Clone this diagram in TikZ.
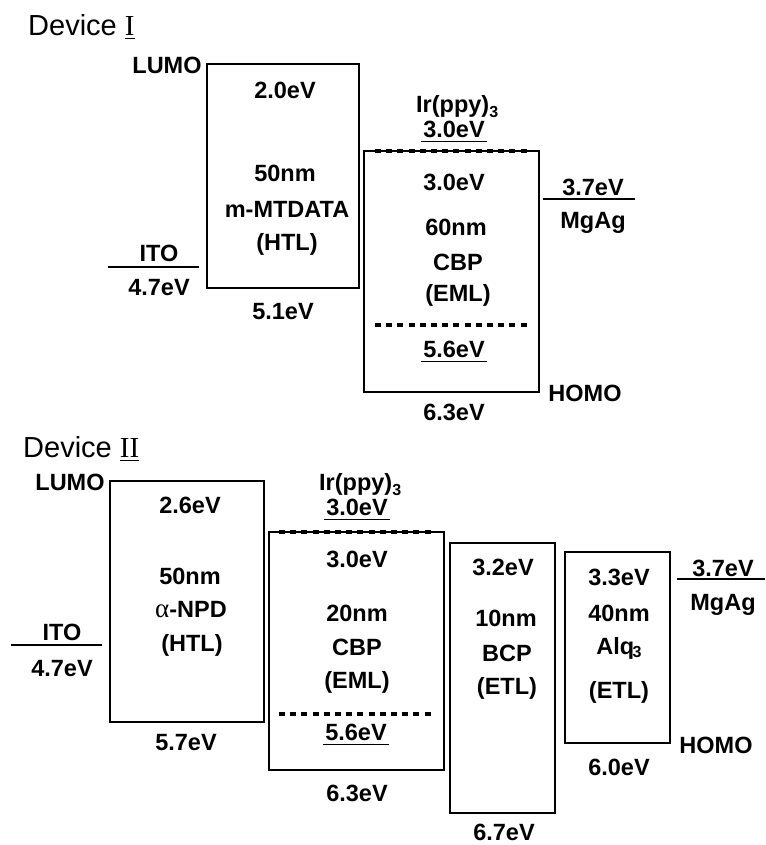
\documentclass[tikz,border=0pt]{standalone}
\usepackage{fontspec}
\setmainfont{Liberation Sans}
\newfontfamily\serifnum{Liberation Serif}
\newcommand\ulbl[1]{\setbox0\hbox{#1}\rlap{\hskip-2pt\rule[-4.5pt]{\dimexpr\wd0+4pt\relax}{1.5pt}}\box0}
\newcommand\uldev[1]{\setbox0\hbox{#1}\rlap{\rule[-3.5pt]{\wd0}{1.3pt}}\box0}
\newcommand\subthree{\raisebox{-5pt}{\fontsize{16}{16}\selectfont 3}}
\begin{document}
\begin{tikzpicture}[x=1pt,y=-1pt,
  layer/.style={draw, line width=1.3pt, inner sep=0pt},
  lbl/.style={font=\bfseries\fontsize{23.5}{27}\selectfont, inner sep=0pt},
  dev/.style={font=\fontsize{29}{33}\selectfont, inner sep=0pt, anchor=west},
  level/.style={line width=1.8pt},
  dots/.style={line width=4.5pt, dash pattern=on 6pt off 5.2pt}]
\useasboundingbox (0,0) rectangle (765,845);

% ---------------- Device I ----------------
\node[dev] (dev1) at (28,27) {Device \uldev{\serifnum I}};
\node[layer, minimum width=152pt, minimum height=224pt] (htl1) at (283,176) {};
\node[layer, minimum width=175pt, minimum height=241pt] (eml1) at (451.5,271.5) {};
\node[lbl] (lumo1) at (167,65) {LUMO};
\node[lbl] (h1a) at (285,90) {2.0eV};
\node[lbl] (h1b) at (285,173) {50nm};
\node[lbl] (h1c) at (287,209) {m-MTDATA};
\node[lbl] (h1d) at (287,244) {(HTL)};
\node[lbl] (h1e) at (283,312) {5.1eV};
\coordinate (ito1l) at (108,267);
\coordinate (ito1r) at (199,267);
\draw[level] (ito1l) -- (ito1r);
\node[lbl] (ito1) at (159,253) {ITO};
\node[lbl] (ito1e) at (159,288) {4.7eV};
\node[lbl, anchor=west] (ir1) at (416,107) {Ir(ppy)\subthree};
\node[lbl] (ir1e) at (454,132) {\ulbl{3.0eV}};
\coordinate (d1tl) at (375,151);
\coordinate (d1tr) at (528,151);
\draw[dots] (d1tl) -- (d1tr);
\coordinate (d1bl) at (375,325);
\coordinate (d1br) at (528,325);
\draw[dots] (d1bl) -- (d1br);
\node[lbl] (e1a) at (454,182) {3.0eV};
\node[lbl] (e1b) at (456,227) {60nm};
\node[lbl] (e1c) at (458,262) {CBP};
\node[lbl] (e1d) at (458,295) {(EML)};
\node[lbl] (e1e) at (454,352) {\ulbl{5.6eV}};
\node[lbl] (e1f) at (454,412) {6.3eV};
\coordinate (mg1l) at (543,199);
\coordinate (mg1r) at (635,199);
\draw[level] (mg1l) -- (mg1r);
\node[lbl] (mg1e) at (593,187) {3.7eV};
\node[lbl] (mg1) at (593,223) {MgAg};
\node[lbl] (homo1) at (585,393) {HOMO};

% ---------------- Device II ----------------
\node[dev] (dev2) at (23,449) {Device \uldev{\serifnum II}};
\node[layer, minimum width=154pt, minimum height=241pt] (htl2) at (187,601.5) {};
\node[layer, minimum width=175pt, minimum height=238pt] (eml2) at (356.5,651) {};
\node[layer, minimum width=105pt, minimum height=270pt] (bcp) at (502.5,678) {};
\node[layer, minimum width=105pt, minimum height=191pt] (alq) at (617.5,647.5) {};
\node[lbl] (lumo2) at (70,482) {LUMO};
\node[lbl] (h2a) at (190,505) {2.6eV};
\node[lbl] (h2b) at (190,576) {50nm};
\node[lbl] (h2c) at (191,610) {{\serifnum\mdseries\fontsize{27}{29}\selectfont α}-NPD};
\node[lbl] (h2d) at (192,645) {(HTL)};
\node[lbl] (h2e) at (186,743) {5.7eV};
\coordinate (ito2l) at (11,645);
\coordinate (ito2r) at (102,645);
\draw[level] (ito2l) -- (ito2r);
\node[lbl] (ito2) at (62,632) {ITO};
\node[lbl] (ito2e) at (62,669) {4.7eV};
\node[lbl, anchor=west] (ir2) at (319,485) {Ir(ppy)\subthree};
\node[lbl] (ir2e) at (357,510) {\ulbl{3.0eV}};
\coordinate (d2tl) at (279,532);
\coordinate (d2tr) at (432,532);
\draw[dots] (d2tl) -- (d2tr);
\coordinate (d2bl) at (279,714);
\coordinate (d2br) at (432,714);
\draw[dots] (d2bl) -- (d2br);
\node[lbl] (e2a) at (357,559) {3.0eV};
\node[lbl] (e2b) at (357,613) {20nm};
\node[lbl] (e2c) at (357,647) {CBP};
\node[lbl] (e2d) at (357,682) {(EML)};
\node[lbl] (e2e) at (356,735) {\ulbl{5.6eV}};
\node[lbl] (e2f) at (357,793) {6.3eV};
\node[lbl] (b1) at (503,567) {3.2eV};
\node[lbl] (b2) at (506,618) {10nm};
\node[lbl] (b3) at (507,653) {BCP};
\node[lbl] (b4) at (507,688) {(ETL)};
\node[lbl] (b5) at (504,832) {6.7eV};
\node[lbl] (a1) at (619,577) {3.3eV};
\node[lbl] (a2) at (619,613) {40nm};
\node[lbl] (a3) at (619,648) {Alq\kern-1.5pt\raisebox{-3pt}{\fontsize{16}{16}\selectfont 3}};
\node[lbl] (a4) at (619,692) {(ETL)};
\node[lbl] (a5) at (619,767) {6.0eV};
\coordinate (mg2l) at (677,579);
\coordinate (mg2r) at (765,579);
\draw[level] (mg2l) -- (mg2r);
\node[lbl] (mg2e) at (723,568) {3.7eV};
\node[lbl] (mg2) at (723,605) {MgAg};
\node[lbl] (homo2) at (716,745) {HOMO};
\end{tikzpicture}
\end{document}
